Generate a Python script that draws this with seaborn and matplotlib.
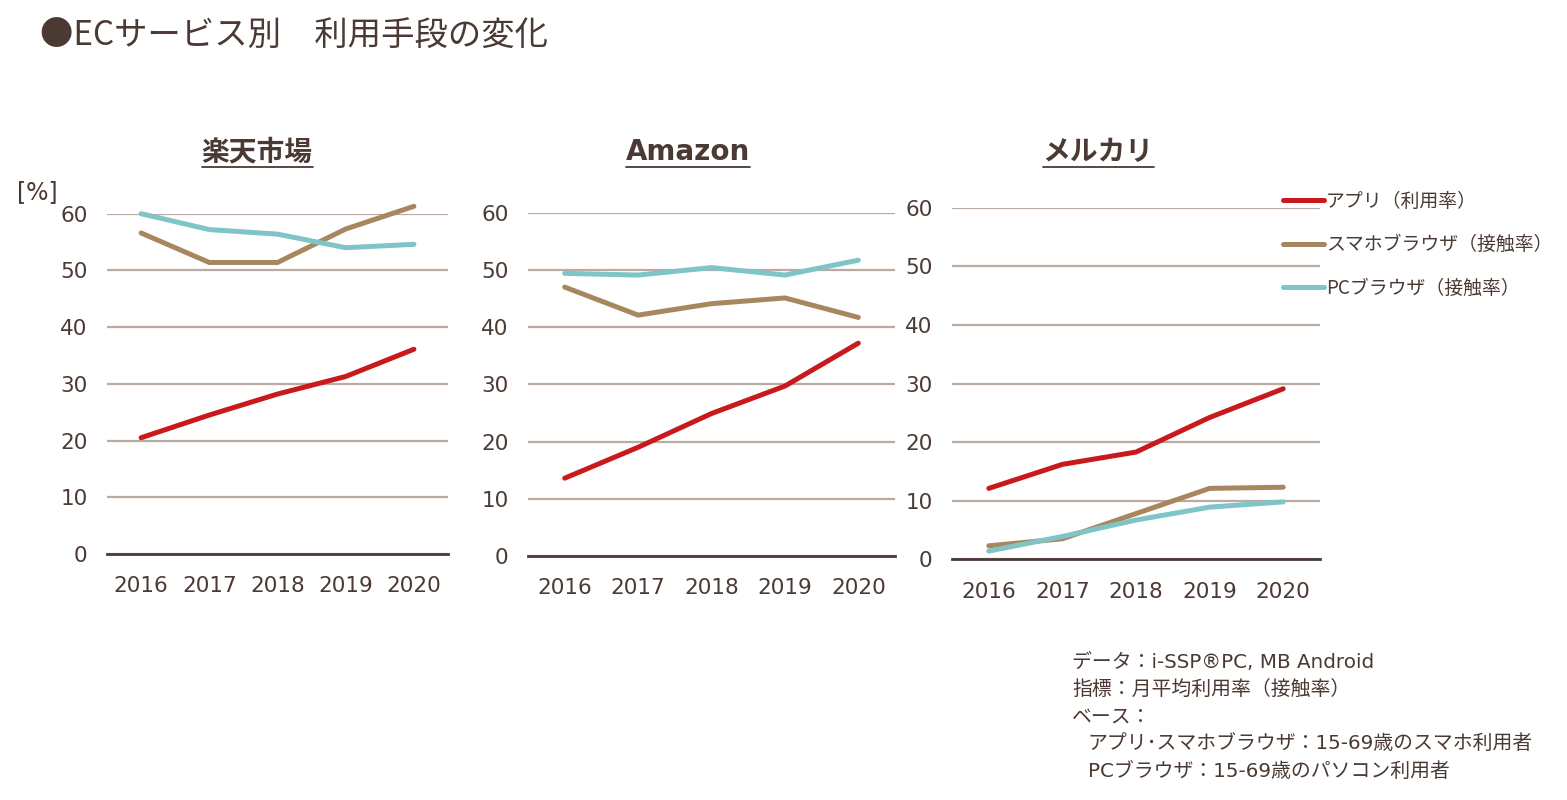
import matplotlib
matplotlib.use("Agg")
import matplotlib.pyplot as plt
from matplotlib.lines import Line2D
from matplotlib.transforms import IdentityTransform
import seaborn as sns
import pandas as pd

# ---------------- data ----------------
years = ["2016", "2017", "2018", "2019", "2020"]
series_names = ["アプリ（利用率）", "スマホブラウザ（接触率）", "PCブラウザ（接触率）"]
panel_titles = ["楽天市場", "Amazon", "メルカリ"]

rakuten_app = [20.5, 24.5, 28.2, 31.3, 36.1]
rakuten_sp = [56.6, 51.4, 51.4, 57.3, 61.3]
rakuten_pc = [60.0, 57.2, 56.4, 54.0, 54.6]

amazon_app = [13.6, 19.0, 24.9, 29.7, 37.2]
amazon_sp = [47.0, 42.1, 44.1, 45.1, 41.7]
amazon_pc = [49.4, 49.1, 50.4, 49.1, 51.7]

mercari_app = [12.1, 16.2, 18.3, 24.2, 29.1]
mercari_sp = [2.3, 3.5, 7.8, 12.1, 12.3]
mercari_pc = [1.4, 3.9, 6.7, 8.9, 9.8]

yticks = [0, 10, 20, 30, 40, 50, 60]

# ---------------- style ----------------
sns.set_theme(style="white")
plt.rcParams["font.family"] = ["DejaVu Sans", "Noto Sans CJK JP"]
TEXT = "#4a3a33"
GRID = "#b9aaa2"
palette = {series_names[0]: "#c81a1c",
           series_names[1]: "#a8875f",
           series_names[2]: "#7fc4c6"}

W, H = 1567, 800
fig = plt.figure(figsize=(W / 100, H / 100), dpi=100)
fig.patch.set_facecolor("white")

# axes rectangles in pixels: left, right, y(0), y(60)
rects = [(107, 448, 554, 213.7), (528, 895, 556, 212.7), (952, 1320, 559.3, 207.7)]
panels = [(rakuten_app, rakuten_sp, rakuten_pc),
          (amazon_app, amazon_sp, amazon_pc),
          (mercari_app, mercari_sp, mercari_pc)]
title_x = [257, 688, 1098]

title_texts = []
for i, ((l, r, yb, yt), vals) in enumerate(zip(rects, panels)):
    ax = fig.add_axes([l / W, 1 - yb / H, (r - l) / W, (yb - yt) / H])
    rows = []
    for name, v in zip(series_names, vals):
        for y, val in zip(years, v):
            rows.append({"year": y, "value": val, "series": name})
    df = pd.DataFrame(rows)
    sns.lineplot(data=df, x="year", y="value", hue="series", hue_order=series_names,
                 palette=palette, sort=False, legend=False, ax=ax, linewidth=3.6,
                 clip_on=False)
    for ln in ax.lines:
        ln.set_solid_capstyle("round")
        ln.set_solid_joinstyle("round")
    ax.set_xlim(-0.5, 4.5)
    ax.set_ylim(0, 60)
    ax.set_yticks(yticks)
    ax.set_yticklabels([str(t) for t in yticks])
    ax.yaxis.grid(True, color=GRID, linewidth=1.6)
    ax.xaxis.grid(False)
    ax.set_axisbelow(True)
    for s in ["top", "right", "left"]:
        ax.spines[s].set_visible(False)
    ax.spines["bottom"].set_color(TEXT)
    ax.spines["bottom"].set_linewidth(2)
    ax.spines["bottom"].set_zorder(1)
    ax.tick_params(axis="y", length=0, pad=14, labelsize=15.5, labelcolor=TEXT)
    ax.tick_params(axis="x", length=0, pad=16, labelsize=15.5, labelcolor=TEXT)
    ax.set_xlabel("")
    ax.set_ylabel("")
    ax.set_facecolor("none")
    t = fig.text(title_x[i] / W, 1 - 152 / H, panel_titles[i], ha="center", va="center",
                 fontsize=20, fontweight="bold", color=TEXT)
    title_texts.append(t)

# unit label
fig.text(37 / W, 1 - 192 / H, "[%]", ha="center", va="center", fontsize=17, color=TEXT)

# main title
fig.text(40 / W, 1 - 36 / H, "●ECサービス別　利用手段の変化", ha="left", va="center",
         fontsize=24, color=TEXT, family=["Noto Sans CJK JP", "DejaVu Sans"])

# legend
handles = [Line2D([0], [0], color=palette[n], lw=3.6, solid_capstyle="round") for n in series_names]
leg = fig.legend(handles, series_names, loc="upper left",
                 bbox_to_anchor=(1275 / W, 1 - 183 / H), frameon=False,
                 handlelength=2.2, handletextpad=0.1, labelspacing=1.2,
                 borderaxespad=0.0,
                 prop={"family": ["Noto Sans CJK JP"], "size": 13.6})
for tx in leg.get_texts():
    tx.set_color(TEXT)

# footnote
notes = ["データ：i-SSP®PC, MB Android",
         "指標：月平均利用率（接触率）",
         "ベース：",
         "アプリ･スマホブラウザ：15-69歳のスマホ利用者",
         "PCブラウザ：15-69歳のパソコン利用者"]
indent = [0, 0, 0, 16, 16]
for k, line in enumerate(notes):
    fig.text((1072 + indent[k]) / W, 1 - (662 + 27.3 * k) / H, line, ha="left", va="center",
             fontsize=14.3, color=TEXT)

# underline panel titles
fig.canvas.draw()
rend = fig.canvas.get_renderer()
for t in title_texts:
    bb = t.get_window_extent(rend)
    fig.add_artist(Line2D([bb.x0, bb.x1], [bb.y0 - 1, bb.y0 - 1], color=TEXT, lw=1.3,
                          transform=IdentityTransform()))

fig.savefig("out.png", dpi=100, facecolor="white")
